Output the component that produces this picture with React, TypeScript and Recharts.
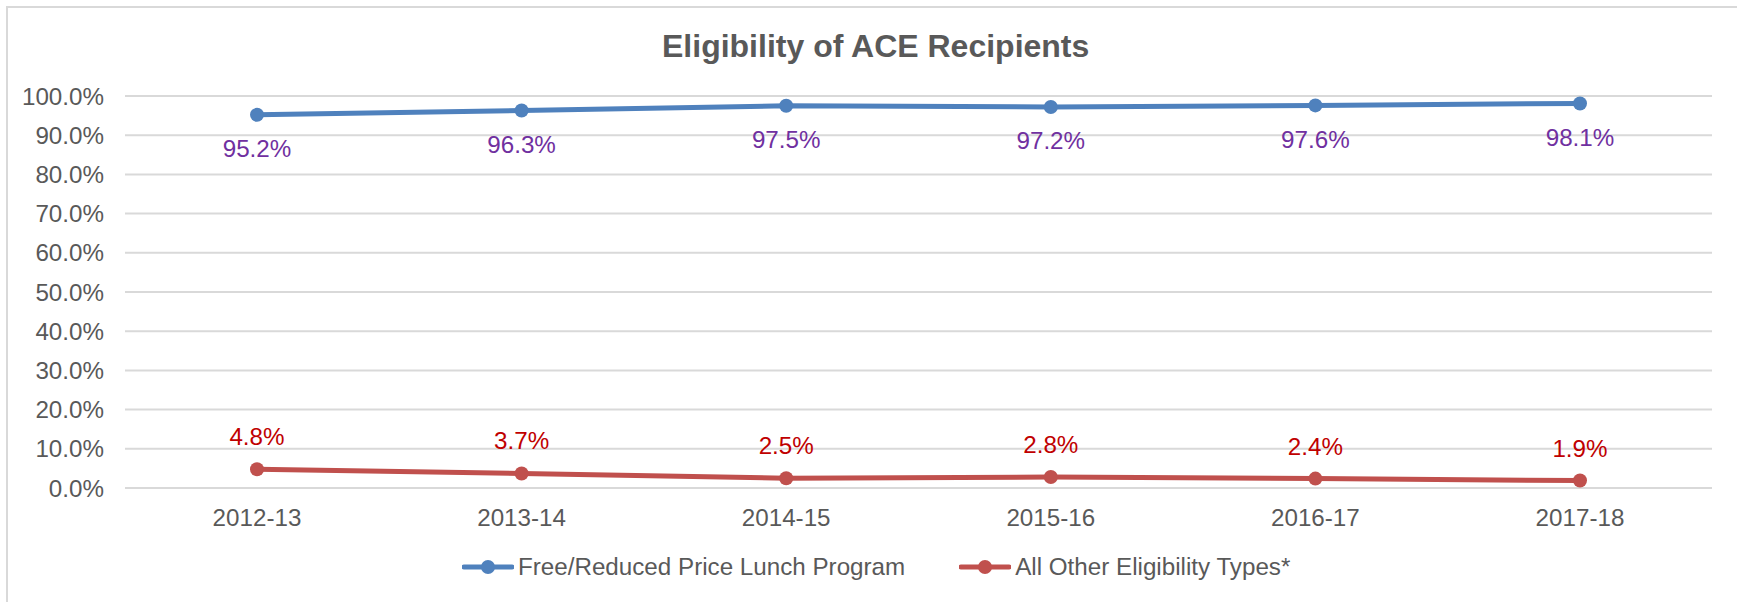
import React from 'react';
import { LineChart, Line, XAxis, YAxis, CartesianGrid, Legend, LabelList } from 'recharts';

const categories = ['2012-13', '2013-14', '2014-15', '2015-16', '2016-17', '2017-18'];
const freeReduced = [95.2, 96.3, 97.5, 97.2, 97.6, 98.1];
const otherTypes = [4.8, 3.7, 2.5, 2.8, 2.4, 1.9];
const yTicks = [0, 10, 20, 30, 40, 50, 60, 70, 80, 90, 100];
const seriesNames = ['Free/Reduced Price Lunch Program', 'All Other Eligibility Types*'];
const title = 'Eligibility of ACE Recipients';

const data = categories.map((c, i) => ({ cat: c, a: freeReduced[i], b: otherTypes[i] }));

const FONT = '"Liberation Sans", Arial, sans-serif';
const BLUE = '#4F81BD';
const RED = '#C0504D';
const FS = 24.2;

const LegendContent = () => {
  const items = [
    { name: seriesNames[0], color: BLUE },
    { name: seriesNames[1], color: RED },
  ];
  return (
    <div style={{ display: 'flex', height: 40, alignItems: 'center', paddingLeft: 462, fontFamily: FONT, fontSize: FS, color: '#595959' }}>
      {items.map((it, i) => (
        <div key={i} style={{ display: 'flex', alignItems: 'center', marginRight: i === 0 ? 54 : 0 }}>
          <svg width={52} height={20} style={{ marginRight: 4 }}>
            <line x1={2} y1={10} x2={50} y2={10} stroke={it.color} strokeWidth={5} strokeLinecap="round" />
            <circle cx={26} cy={10} r={7} fill={it.color} />
          </svg>
          <span style={{ whiteSpace: 'nowrap' }}>{it.name}</span>
        </div>
      ))}
    </div>
  );
};

export default function App() {
  return (
    <div style={{ position: 'absolute', left: 0, top: 0, width: 1737, height: 602, overflow: 'hidden', background: '#fff', fontFamily: FONT }}>
      <div style={{ position: 'absolute', left: 6, top: 6, width: 1760, height: 640, border: '2px solid #D9D9D9', boxSizing: 'border-box' }} />
      <div style={{ position: 'absolute', left: 0, top: 26, width: 1737, fontFamily: FONT, fontWeight: 'bold', fontSize: 32, color: '#595959', lineHeight: '40px' }}>
        <span style={{ position: 'absolute', left: 662, whiteSpace: 'nowrap' }}>{title}</span>
      </div>
      <div style={{ position: 'absolute', left: 0, top: 0 }}>
        <LineChart width={1737} height={602} data={data} margin={{ top: 96, right: 25, bottom: 15, left: 0 }}>
          <CartesianGrid vertical={false} stroke="#D9D9D9" strokeWidth={2} />
          <XAxis
            dataKey="cat"
            axisLine={false}
            tickLine={false}
            tickSize={0}
            tickMargin={20.5}
            height={59}
            padding={{ left: 132, right: 132 }}
            tick={{ fill: '#595959', fontSize: FS, fontFamily: FONT }}
            interval={0}
          />
          <YAxis
            domain={[0, 100]}
            ticks={yTicks}
            axisLine={false}
            tickLine={false}
            tickSize={0}
            tickMargin={21}
            width={125}
            tickFormatter={(v: number) => v.toFixed(1) + '%'}
            tick={{ fill: '#595959', fontSize: FS, fontFamily: FONT }}
          />
          <Legend verticalAlign="bottom" height={40} content={<LegendContent />} />
          <Line type="linear" dataKey="a" name={seriesNames[0]} stroke={BLUE} strokeWidth={5} dot={{ r: 7, fill: BLUE, stroke: BLUE, strokeWidth: 0 }} isAnimationActive={false}>
            <LabelList dataKey="a" position="bottom" offset={25} formatter={(v: number) => v.toFixed(1) + '%'} fill="#7030A0" fontSize={FS} fontFamily={FONT} />
          </Line>
          <Line type="linear" dataKey="b" name={seriesNames[1]} stroke={RED} strokeWidth={5} dot={{ r: 7, fill: RED, stroke: RED, strokeWidth: 0 }} isAnimationActive={false}>
            <LabelList dataKey="b" position="top" offset={24} formatter={(v: number) => v.toFixed(1) + '%'} fill="#C00000" fontSize={FS} fontFamily={FONT} />
          </Line>
        </LineChart>
      </div>
    </div>
  );
}
